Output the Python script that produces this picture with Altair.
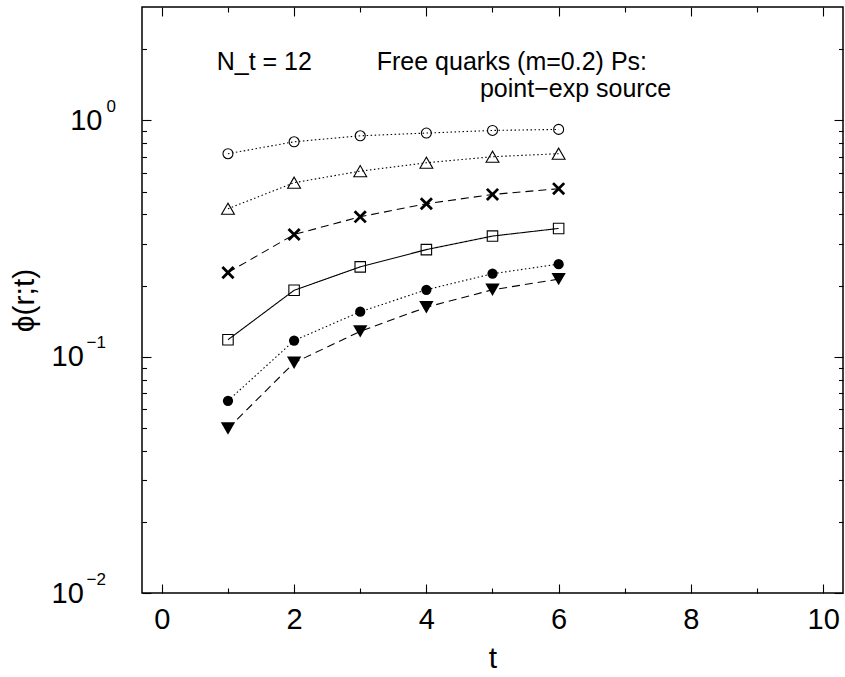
import altair as alt
import pandas as pd

# ---------------- data ----------------
t_vals = [1, 2, 3, 4, 5, 6]
open_circle = [0.723, 0.812, 0.861, 0.884, 0.907, 0.916]
open_triangle = [0.423, 0.545, 0.610, 0.662, 0.702, 0.723]
cross_vals = [0.227, 0.329, 0.391, 0.444, 0.486, 0.514]
open_square = [0.118, 0.191, 0.240, 0.284, 0.324, 0.349]
filled_circle = [0.0651, 0.117, 0.155, 0.192, 0.2245, 0.2465]
filled_triangle = [0.0497, 0.0943, 0.128, 0.162, 0.192, 0.213]

series_names = ["open_circle", "open_triangle", "cross", "open_square",
                "filled_circle", "filled_triangle"]
series_values = [open_circle, open_triangle, cross_vals, open_square,
                 filled_circle, filled_triangle]

x_major = [0, 2, 4, 6, 8, 10]
x_minor = [1, 3, 5, 7, 9]
y_major = [0.01, 0.1, 1]
y_minor = [k * m for m in (0.01, 0.1) for k in range(2, 10)] + [2]

ann_text = ["N_t = 12", "Free quarks (m=0.2) Ps:", "point\u2212exp source"]
ann_t = [0.83, 3.25, 4.81]
ann_phi = [1.636, 1.636, 1.257]

# ---------------- styles ----------------
dash_styles = [[1.5, 2.5], [1.5, 2.5], [8, 5], [1, 0], [1.5, 2.5], [8, 5]]
FONT = "Liberation Sans"

rows = []
for name, vals in zip(series_names, series_values):
    for t, v in zip(t_vals, vals):
        rows.append({"series": name, "t": t, "phi": v})
df = pd.DataFrame(rows)
ann_df = pd.DataFrame({"text": ann_text, "t": ann_t, "phi": ann_phi})

xs = alt.Scale(domain=[-0.3, 10.3], nice=False, zero=False)
ys = alt.Scale(type="log", domain=[0.01, 3.02], nice=False)

base = alt.Chart(df)


def X(axis):
    return alt.X("t:Q", scale=xs, axis=axis)


def Y(axis):
    return alt.Y("phi:Q", scale=ys, axis=axis)


lines = base.mark_line(color="black", strokeWidth=1.1).encode(
    x=X(None), y=Y(None),
    detail="series:N",
    strokeDash=alt.StrokeDash("series:N",
                              scale=alt.Scale(domain=series_names, range=dash_styles),
                              legend=None),
)

marker_specs = {
    "open_circle": dict(shape="circle", filled=False, size=100, strokeWidth=1.1),
    "open_triangle": dict(shape="triangle-up", filled=False, size=165, strokeWidth=1.1),
    "cross": dict(shape="M -1 -1 L 1 1 M 1 -1 L -1 1", filled=False, size=125, strokeWidth=2.8),
    "open_square": dict(shape="square", filled=False, size=110, strokeWidth=1.1),
    "filled_circle": dict(shape="circle", filled=True, size=105),
    "filled_triangle": dict(shape="triangle-down", filled=True, size=205),
}
point_layers = []
for name in series_names:
    point_layers.append(
        base.transform_filter(alt.datum.series == name)
        .mark_point(color="black", opacity=1, **marker_specs[name])
        .encode(x=X(None), y=Y(None))
    )

common = dict(grid=False, domain=False, tickColor="black", tickWidth=1.1,
              labelFont=FONT, labelColor="black", titleFont=FONT, titleColor="black",
              titleFontWeight="normal", labelFlush=False, labelOverlap=False)

# major ticks + labels (bottom / left)
ax_a = base.mark_point(opacity=0).encode(
    x=X(alt.Axis(orient="bottom", values=x_major, tickSize=9, offset=-9,
                 labelFontSize=29, labelPadding=12, format="d", title="t",
                 titleFontSize=30, titlePadding=9, **common)),
    y=Y(alt.Axis(orient="left", values=y_major, tickSize=9, offset=-9,
                 labelExpr="'10'", labelFontSize=29, labelAlign="right",
                 labelBaseline="middle",
                 labelPadding={"condition": {"test": "datum.value > 0.5", "value": 40},
                               "value": 58.7},
                 title="\u03d5(r;t)", titleFontSize=30, titlePadding=12, **common)),
)
# exponent labels
ax_e = base.mark_point(opacity=0).encode(
    x=X(None),
    y=Y(alt.Axis(orient="left", values=y_major, ticks=False,
                 labelExpr="datum.value > 0.5 ? '0' : (datum.value > 0.05 ? '\u22121' : '\u22122')",
                 labelFontSize=17, labelAlign="left", labelBaseline="middle",
                 labelOffset=-14,
                 labelPadding={"condition": {"test": "datum.value > 0.5", "value": 36},
                               "value": 56},
                 title=None, **common)),
)
# minor ticks bottom / left
ax_b = base.mark_point(opacity=0).encode(
    x=X(alt.Axis(orient="bottom", values=x_minor, tickSize=5, offset=-5,
                 labels=False, title=None, **common)),
    y=Y(alt.Axis(orient="left", values=y_minor, tickSize=4.5, offset=-4.5,
                 labels=False, title=None, **common)),
)
# major ticks top / right
ax_c = base.mark_point(opacity=0).encode(
    x=X(alt.Axis(orient="top", values=x_major, tickSize=9, offset=-9,
                 labels=False, title=None, **common)),
    y=Y(alt.Axis(orient="right", values=y_major, tickSize=9, offset=-9,
                 labels=False, title=None, **common)),
)
# minor ticks top / right
ax_d = base.mark_point(opacity=0).encode(
    x=X(alt.Axis(orient="top", values=x_minor, tickSize=5, offset=-5,
                 labels=False, title=None, **common)),
    y=Y(alt.Axis(orient="right", values=y_minor, tickSize=4.5, offset=-4.5,
                 labels=False, title=None, **common)),
)

annotations = alt.Chart(ann_df).mark_text(
    font=FONT, fontSize=25, color="black", align="left", baseline="alphabetic"
).encode(x=X(None), y=Y(None), text="text:N")

chart = alt.layer(
    ax_a, ax_e, ax_b, ax_c, ax_d, lines, *point_layers, annotations
).resolve_axis(
    x="independent", y="independent"
).properties(
    width=701, height=586,
    padding={"left": 142, "top": 7, "right": 2, "bottom": 84},
    autosize=alt.AutoSizeParams(type="none"),
    background="white",
).configure_view(stroke="black", strokeWidth=1.5)

chart.save("out.html", embed_options={"renderer": "svg", "actions": False})
